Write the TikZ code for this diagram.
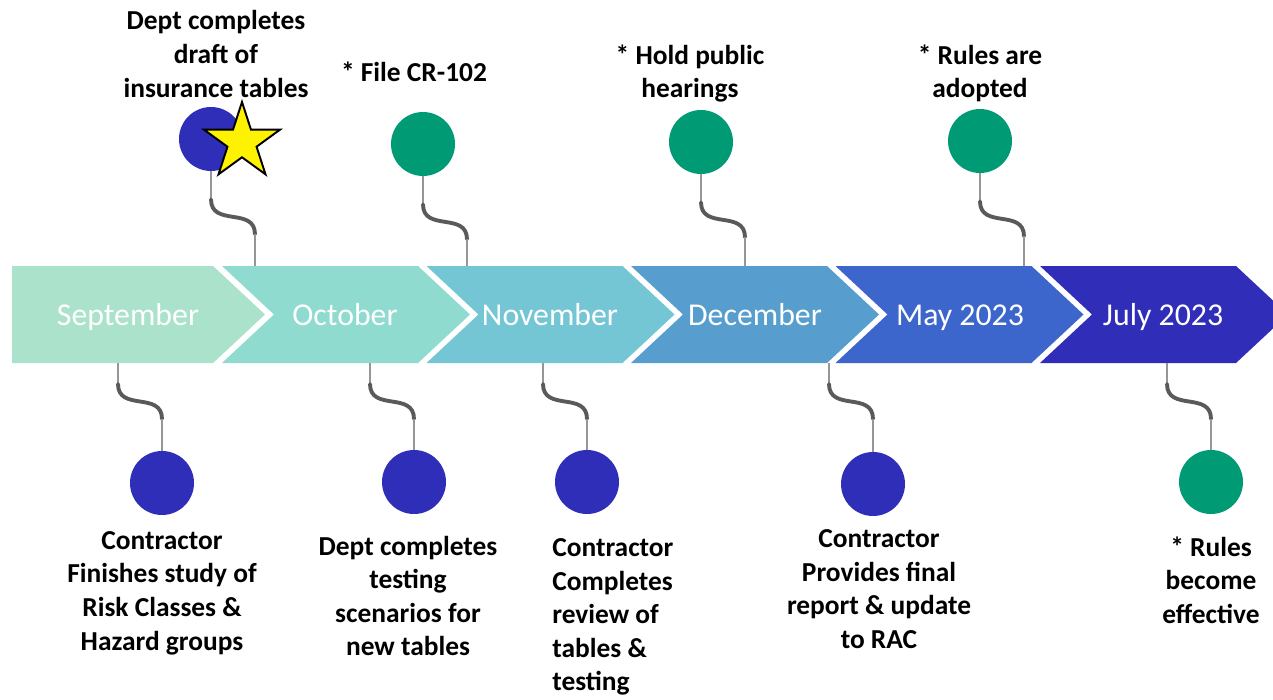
\documentclass[tikz,border=0pt]{standalone}
\usepackage{fontspec}
\setmainfont{Carlito}
\usetikzlibrary{shapes.geometric,calc}
\definecolor{sepcol}{HTML}{AAE2CC}
\definecolor{octcol}{HTML}{90DBCF}
\definecolor{novcol}{HTML}{74C6D4}
\definecolor{deccol}{HTML}{579ECE}
\definecolor{maycol}{HTML}{3D66CC}
\definecolor{julcol}{HTML}{302DB9}
\definecolor{dotblue}{HTML}{2E2EB8}
\definecolor{dotgreen}{HTML}{009A75}
\definecolor{stemgray}{HTML}{969696}
\definecolor{curlgray}{HTML}{5A5A5A}
\newcommand\squiggle[3]{% upper end, lower end, first stem
	\draw[stem] (#1) -- ($(#1)+(0,#3)$) coordinate (sq-a);
	\coordinate (sq-b) at ($(sq-a)+(44,35)$);
	\draw[curl] (sq-a) .. controls ($(sq-a)+(0,28)$) and ($(sq-b)+(0,-28)$) .. (sq-b);
	\draw[stem] (sq-b) -- (sq-b |- #2);
}
\begin{document}
\begin{tikzpicture}[x=0.02cm,y=-0.02cm,
	stem/.style={draw=stemgray, line width=0.9pt},
	curl/.style={draw=curlgray, line width=2.2pt, line cap=round},
	dot/.style={circle, fill=#1, minimum size=1.28cm, inner sep=0pt},
	month/.style={text=white, anchor=base, inner sep=0pt, font=\fontsize{18.1}{21}\selectfont},
	note/.style={font=\fontsize{15.6}{19.1}\selectfont\bfseries, align=center, inner sep=0pt}]
	\fill[white] (0,0) rectangle (1273,699);
	\useasboundingbox (0,0) rectangle (1273,699);
	% band of months
	\fill[sepcol] (12,266) -- (213,266) -- (265,314.5) -- (213,363) -- (12,363) -- cycle;
	\foreach \x/\col in {222/octcol, 426.5/novcol, 631/deccol, 835.5/maycol, 1040/julcol}
		\fill[\col] (\x,266) -- ++(196,0) -- ++(52,48.5) -- ++(-52,48.5) -- ++(-196,0) -- ++(52,-48.5) -- cycle;
	\node[month] (sep) at (128,325) {September};
	\node[month] (oct) at (345,325) {October};
	\node[month] (nov) at (550,325) {November};
	\node[month] (dec) at (755,325) {December};
	\node[month] (may) at (960,325) {May 2023};
	\node[month] (jul) at (1163,325) {July 2023};
	\coordinate (oct-t) at (255,266);
	\coordinate (nov-t) at (467,266);
	\coordinate (dec-t) at (745,266);
	\coordinate (may-t) at (1024,266);
	\coordinate (sep-b) at (118,363);
	\coordinate (oct-b) at (370,363);
	\coordinate (nov-b) at (543,363);
	\coordinate (dec-b) at (829,363);
	\coordinate (jul-b) at (1167,363);
	% milestones
	\node[dot=dotblue] (draft) at (211,139) {};
	\node[star, star points=5, star point ratio=2.618, minimum size=1.6cm, inner sep=0pt,
		fill=yellow, draw=black, line width=1.1pt] (flag) at (242,142) {};
	\node[dot=dotgreen] (file) at (423,144) {};
	\node[dot=dotgreen] (hear) at (701,142) {};
	\node[dot=dotgreen] (adopt) at (980,141) {};
	\node[dot=dotblue] (study) at (162,483) {};
	\node[dot=dotblue] (testing) at (414,482) {};
	\node[dot=dotblue] (review) at (587,482) {};
	\node[dot=dotblue] (report) at (873,484) {};
	\node[dot=dotgreen] (effect) at (1211,482) {};
	\squiggle{draft.south}{oct-t}{28}
	\squiggle{file.south}{nov-t}{28}
	\squiggle{hear.south}{dec-t}{28}
	\squiggle{adopt.south}{may-t}{28}
	\squiggle{sep-b}{study.north}{21}
	\squiggle{oct-b}{testing.north}{21}
	\squiggle{nov-b}{review.north}{21}
	\squiggle{dec-b}{report.north}{21}
	\squiggle{jul-b}{effect.north}{21}
	% texts
	\node[note] (draft-txt) at (216,54) {Dept completes\\draft of\\insurance tables};
	\node[note] (file-txt) at (414,72) {* File CR-102};
	\node[note] (hear-txt) at (690,73.5) {* Hold public\\hearings};
	\node[note] (adopt-txt) at (980,73.5) {* Rules are\\adopted};
	\node[note] (study-txt) at (162,593) {Contractor\\Finishes study of\\Risk Classes \&\\Hazard groups};
	\node[note] (testing-txt) at (408,596) {Dept completes\\testing\\scenarios for\\new tables};
	\node[note, align=left, anchor=west] (review-txt) at (552,617) {Contractor\\Completes\\review of\\tables \&\\testing};
	\node[note] (report-txt) at (879,589) {Contractor\\Provides final\\report \& update\\to RAC};
	\node[note] (effect-txt) at (1211,580) {* Rules\\become\\effective};
\end{tikzpicture}
\end{document}
